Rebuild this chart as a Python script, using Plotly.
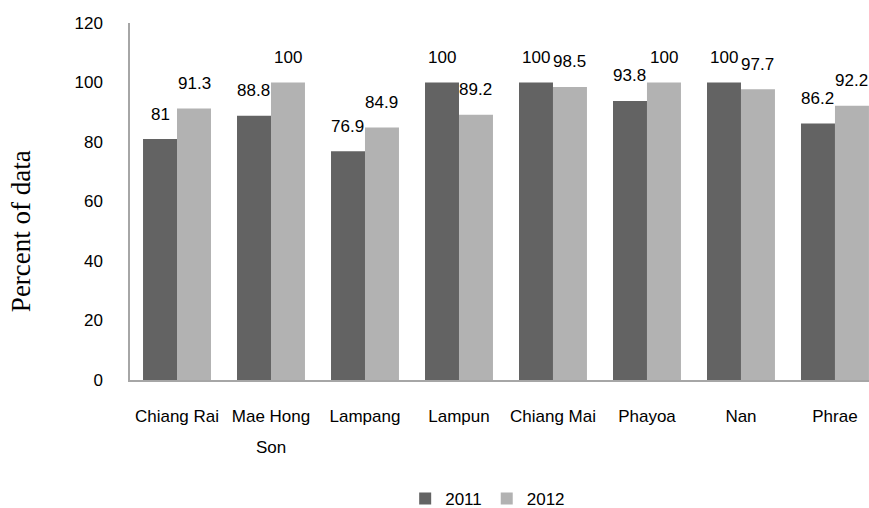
import plotly.graph_objects as go

categories = ["Chiang Rai", "Mae Hong Son", "Lampang", "Lampun", "Chiang Mai", "Phayoa", "Nan", "Phrae"]
tick_labels = ["Chiang Rai", "Mae Hong", "Lampang", "Lampun", "Chiang Mai", "Phayoa", "Nan", "Phrae"]
tick_second_lines = ["", "Son", "", "", "", "", "", ""]
values_2011 = [81, 88.8, 76.9, 100, 100, 93.8, 100, 86.2]
values_2012 = [91.3, 100, 84.9, 89.2, 98.5, 100, 97.7, 92.2]
labels_2011 = ["81", "88.8", "76.9", "100", "100", "93.8", "100", "86.2"]
labels_2012 = ["91.3", "100", "84.9", "89.2", "98.5", "100", "97.7", "92.2"]
series_names = ["2011", "2012"]
y_ticks = [0, 20, 40, 60, 80, 100, 120]
y_title = "Percent of data"

DARK = "#636363"
LIGHT = "#b2b2b2"
AXIS = "#a6a6a6"
TICKFONT = dict(family="Liberation Sans, Arial, sans-serif", size=17, color="#000000")
TITLEFONT = dict(family="Liberation Serif, Times New Roman, serif", size=27, color="#000000")

fig = go.Figure()
fig.add_trace(go.Bar(x=categories, y=values_2011, name=series_names[0], marker=dict(color=DARK, line=dict(width=0))))
fig.add_trace(go.Bar(x=categories, y=values_2012, name=series_names[1], marker=dict(color=LIGHT, line=dict(width=0))))

annotations = []
for cat, v, t in zip(categories, values_2011, labels_2011):
    annotations.append(dict(x=cat, y=v, text=t, xref="x", yref="y", showarrow=False,
                            xshift=-17, yshift=25, yanchor="middle", xanchor="center", font=TICKFONT))
for cat, v, t in zip(categories, values_2012, labels_2012):
    annotations.append(dict(x=cat, y=v, text=t, xref="x", yref="y", showarrow=False,
                            xshift=17, yshift=25, yanchor="middle", xanchor="center", font=TICKFONT))
for cat, t in zip(categories, tick_second_lines):
    if t:
        annotations.append(dict(x=cat, y=0, text=t, xref="x", yref="y", showarrow=False,
                                yshift=-67, yanchor="middle", xanchor="center", font=TICKFONT))
annotations.append(dict(x=-0.1475, y=0.417, xref="paper", yref="paper", text=y_title, textangle=-90,
                        showarrow=False, xanchor="center", yanchor="middle", font=TITLEFONT))

fig.update_layout(
    width=869, height=508,
    margin=dict(l=130, r=0, t=23, b=128, autoexpand=False),
    paper_bgcolor="white", plot_bgcolor="white",
    barmode="group", bargap=0.277, bargroupgap=0,
    showlegend=True,
    legend=dict(orientation="h", x=0.484, xanchor="center", y=-0.333, yanchor="middle",
                font=TICKFONT, traceorder="normal"),
    annotations=annotations,
    font=TICKFONT,
)
fig.update_xaxes(
    categoryorder="array", categoryarray=categories,
    tickmode="array", tickvals=categories, ticktext=tick_labels,
    range=[-0.5, 7.362], showline=True, linecolor=AXIS, linewidth=1.5,
    showgrid=False, ticks="", tickfont=TICKFONT, ticklabelstandoff=20,
    automargin=False,
)
fig.update_yaxes(
    range=[0, 120], tickvals=y_ticks, showline=True, linecolor=AXIS, linewidth=1.5,
    showgrid=False, zeroline=False, ticks="", tickfont=TICKFONT, ticklabelstandoff=22,
    automargin=False,
)

fig.write_html("out.html")
